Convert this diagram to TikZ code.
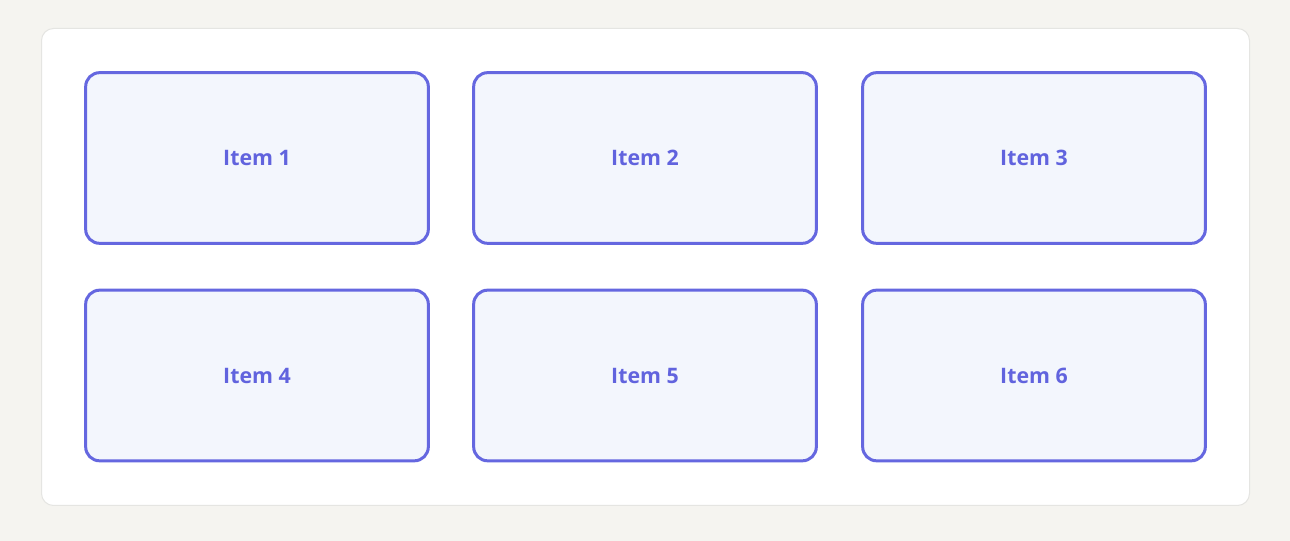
\documentclass[tikz,border=0pt]{standalone}
\usepackage{fontspec}
\setmainfont{Open Sans}
\usepackage{xcolor}
\definecolor{pagebg}{RGB}{245,244,240}
\definecolor{panelline}{RGB}{229,229,226}
\definecolor{itemline}{RGB}{101,103,224}
\definecolor{itemfill}{RGB}{243,246,253}
\definecolor{itemtext}{RGB}{97,99,222}
\tikzset{
  itembox/.style={draw=itemline, fill=itemfill, line width=2.25pt, rounded corners=10.5pt,
    minimum width=257pt, minimum height=128pt, inner sep=0pt,
    text=itemtext, font=\fontsize{16}{19}\selectfont\bfseries}
}
\begin{document}
\begin{tikzpicture}[x=0.75pt,y=0.75pt,yscale=-1,xscale=1]
%page background and size
\fill[pagebg] (0,0) rectangle (1290,541);
\useasboundingbox (0,0) rectangle (1290,541);

%Shape: panel
\draw[panelline, fill=white, line width=0.75pt, rounded corners=9pt] (41.5,28.5) rectangle (1249.5,505.5);

% Item nodes
\node[itembox] (item1) at (257,158) {Item 1};
\node[itembox] (item2) at (645,158) {Item 2};
\node[itembox] (item3) at (1034,158) {Item 3};
\node[itembox] (item4) at (257,375.5) {Item 4};
\node[itembox] (item5) at (645,375.5) {Item 5};
\node[itembox] (item6) at (1034,375.5) {Item 6};

\end{tikzpicture}
\end{document}
